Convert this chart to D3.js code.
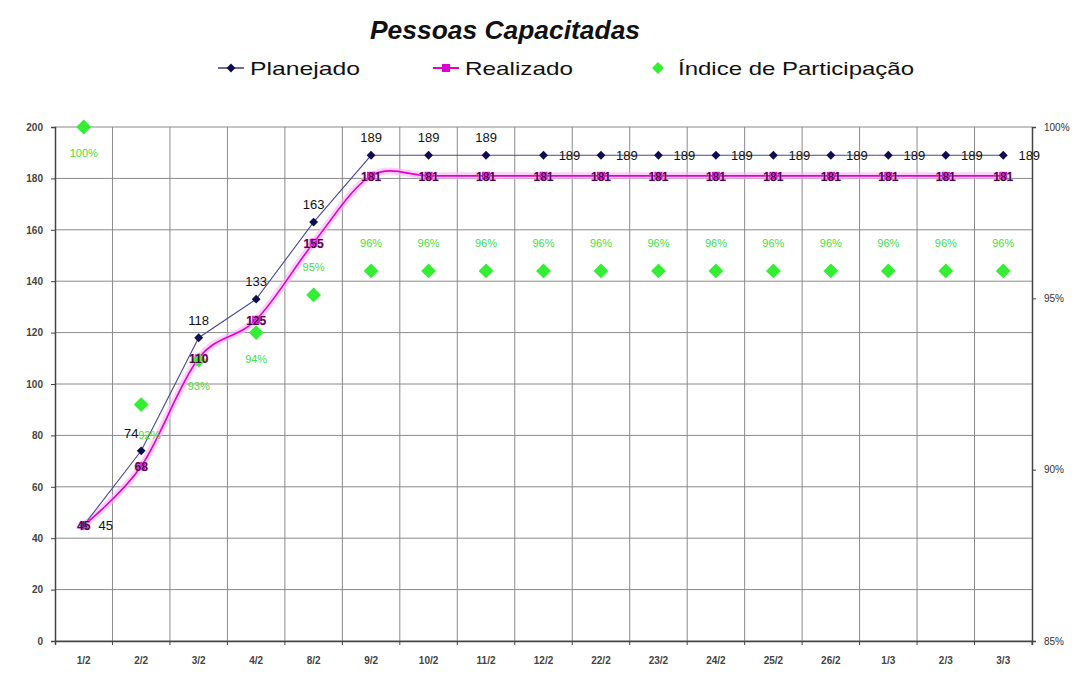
<!DOCTYPE html>
<html>
<head>
<meta charset="utf-8">
<script src="https://cdn.jsdelivr.net/npm/d3@7"></script>
<style>
  body { margin: 0; background: #fff; }
  svg { display: block; font-family: "Liberation Sans", Arial, sans-serif; }
</style>
</head>
<body>
<svg id="chart" width="1078" height="674"></svg>
<script>
const categories = ["1/2","2/2","3/2","4/2","8/2","9/2","10/2","11/2","12/2","22/2","23/2","24/2","25/2","26/2","1/3","2/3","3/3"];
const planejado = [45, 74, 118, 133, 163, 189, 189, 189, 189, 189, 189, 189, 189, 189, 189, 189, 189];
const realizado = [45, 68, 110, 125, 155, 181, 181, 181, 181, 181, 181, 181, 181, 181, 181, 181, 181];
const indice = [100, 91.9, 93.2, 94.0, 95.1, 95.8, 95.8, 95.8, 95.8, 95.8, 95.8, 95.8, 95.8, 95.8, 95.8, 95.8, 95.8];
const leftTicks = [0, 20, 40, 60, 80, 100, 120, 140, 160, 180, 200];
const rightTicks = [85, 90, 95, 100];
const title = "Pessoas Capacitadas";
const seriesNames = ["Planejado", "Realizado", "Índice de Participação"];

const svg = d3.select("#chart");
const m = { left: 55, right: 1032, top: 127, bottom: 641 };

const x = d3.scaleBand().domain(categories).range([m.left, m.right]).padding(0);
const y = d3.scaleLinear().domain([0, 200]).range([m.bottom, m.top]);
const y2 = d3.scaleLinear().domain([85, 100]).range([m.bottom, m.top]);
const cx = d => x(d) + x.bandwidth() / 2;

// Gridlines
const grid = svg.append("g");
grid.selectAll("line.h").data(leftTicks).join("line")
  .attr("x1", m.left).attr("x2", m.right)
  .attr("y1", d => y(d)).attr("y2", d => y(d))
  .attr("stroke", "#8a8a8a").attr("stroke-width", 1);
grid.selectAll("line.v").data(categories.slice(1)).join("line")
  .attr("x1", d => x(d)).attr("x2", d => x(d))
  .attr("y1", m.top).attr("y2", m.bottom)
  .attr("stroke", "#8a8a8a").attr("stroke-width", 1);

// Axes
const axL = svg.append("g").attr("transform", `translate(${m.left},0)`)
  .call(d3.axisLeft(y).tickValues(leftTicks).tickSize(4).tickPadding(8));
const axR = svg.append("g").attr("transform", `translate(${m.right},0)`)
  .call(d3.axisRight(y2).tickValues(rightTicks).tickSize(4).tickPadding(8).tickFormat(d => d + "%"));
const axB = svg.append("g").attr("transform", `translate(0,${m.bottom})`)
  .call(d3.axisBottom(x).tickSize(4).tickPadding(12));
[axL, axR, axB].forEach(a => {
  a.selectAll("path.domain").attr("stroke", "#444").attr("stroke-width", 1.5);
  a.selectAll(".tick line").attr("stroke", "#444");
  a.selectAll("text").attr("font-size", 10).attr("fill", "#333").attr("font-family", "Liberation Sans, Arial, sans-serif");
});
axL.selectAll("text").attr("font-weight", "bold").attr("fill", "#444");
axB.selectAll("text").attr("font-weight", "bold").attr("fill", "#444");
// move bottom ticks to category boundaries
axB.selectAll(".tick line").attr("transform", `translate(${x.bandwidth()/2},0)`);

// Realizado line (smoothed) with soft glow
const lineR = d3.line().x((d, i) => cx(categories[i])).y(d => y(d)).curve(d3.curveCatmullRom.alpha(0));
svg.append("path").datum(realizado).attr("d", lineR)
  .attr("fill", "none").attr("stroke", "#ffb3f5").attr("stroke-width", 7).attr("opacity", 0.6);
svg.append("path").datum(realizado).attr("d", lineR)
  .attr("fill", "none").attr("stroke", "#e000d0").attr("stroke-width", 1.6);

// Planejado line
const lineP = d3.line().x((d, i) => cx(categories[i])).y(d => y(d));
svg.append("path").datum(planejado).attr("d", lineP)
  .attr("fill", "none").attr("stroke", "#4a4a9a").attr("stroke-width", 1.1);

// Realizado markers
svg.selectAll("rect.rm").data(realizado).join("rect")
  .attr("x", (d, i) => cx(categories[i]) - 4).attr("y", d => y(d) - 4)
  .attr("width", 8).attr("height", 8).attr("fill", "#e000d0");

// Planejado markers
const diamond = d3.symbol().type(d3.symbolDiamond2);
svg.selectAll("path.pm").data(planejado).join("path")
  .attr("d", diamond.size(50)())
  .attr("transform", (d, i) => `translate(${cx(categories[i])},${y(d)})`)
  .attr("fill", "#0d0d50");

// Indice markers
svg.selectAll("path.im").data(indice).join("path")
  .attr("d", diamond.size(140)())
  .attr("transform", (d, i) => `translate(${cx(categories[i])},${y2(d)})`)
  .attr("fill", "#33ee33");

// Indice labels
svg.selectAll("text.il").data(indice).join("text")
  .attr("x", (d, i) => cx(categories[i]) + (i === 1 ? 8 : 0))
  .attr("y", (d, i) => y2(d) + (i === 1 ? 34 : (i < 4 ? 30 : -24)))
  .attr("text-anchor", "middle").attr("font-size", 11)
  .attr("fill", "#44dd44")
  .text(d => Math.round(d) + "%");

// Planejado labels
svg.selectAll("text.pl").data(planejado).join("text")
  .attr("x", (d, i) => {
    const c = cx(categories[i]);
    if (i === 0) return c + 22;
    if (i === 1) return c - 10;
    if (i >= 8) return c + 26;
    return c;
  })
  .attr("y", (d, i) => {
    if (i === 0) return y(d) + 5;
    if (i >= 8) return y(d) + 5;
    return y(d) - 13;
  })
  .attr("text-anchor", "middle").attr("font-size", 13)
  .attr("fill", "#111")
  .text(d => d);

// Realizado labels
svg.selectAll("text.rl").data(realizado).join("text")
  .attr("x", (d, i) => cx(categories[i]))
  .attr("y", d => y(d) + 5)
  .attr("text-anchor", "middle").attr("font-size", 12).attr("font-weight", "bold")
  .attr("fill", "#4a0a4a")
  .attr("stroke", "#ff99ee").attr("stroke-width", 0.6).attr("paint-order", "stroke")
  .text(d => d);

// Title
svg.append("text").attr("x", 370).attr("y", 39)
  .attr("font-size", 25).attr("textLength", 270).attr("lengthAdjust", "spacingAndGlyphs")
  .attr("font-style", "italic").attr("font-weight", "bold").attr("fill", "#111")
  .text(title);

// Legend
const lg = svg.append("g");
const lx = [218, 433, 646];
const lw = [110, 108, 236];
// Planejado
lg.append("line").attr("x1", lx[0]).attr("x2", lx[0] + 26).attr("y1", 68).attr("y2", 68).attr("stroke", "#3a3a8a").attr("stroke-width", 1.5);
lg.append("path").attr("d", diamond.size(50)()).attr("transform", `translate(${lx[0] + 13},68)`).attr("fill", "#0d0d50");
// Realizado
lg.append("line").attr("x1", lx[1]).attr("x2", lx[1] + 26).attr("y1", 68).attr("y2", 68).attr("stroke", "#e000d0").attr("stroke-width", 2);
lg.append("rect").attr("x", lx[1] + 9).attr("y", 64).attr("width", 8).attr("height", 8).attr("fill", "#e000d0");
// Indice
lg.append("path").attr("d", diamond.size(90)()).attr("transform", `translate(${lx[2] + 12},68)`).attr("fill", "#33ee33");
lg.selectAll("text").data(seriesNames).join("text")
  .attr("x", (d, i) => lx[i] + 32).attr("y", 75)
  .attr("font-size", 19).attr("fill", "#111")
  .attr("textLength", (d, i) => lw[i]).attr("lengthAdjust", "spacingAndGlyphs")
  .text(d => d);
</script>
</body>
</html>
